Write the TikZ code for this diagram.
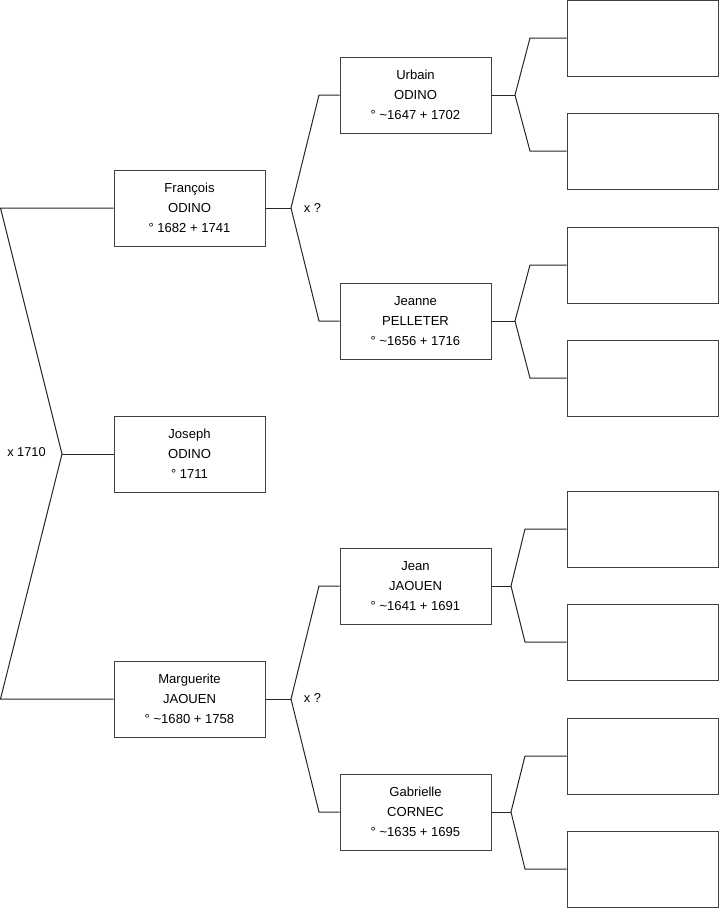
\documentclass[tikz,border=0pt]{standalone}
\usepackage{fontspec}
\setmainfont{Liberation Sans}
\begin{document}
\begin{tikzpicture}[x=0.75pt,y=-0.75pt,
  person/.style={draw=black!75,line width=0.75pt,fill=white,minimum width=113.25pt,minimum height=57pt,inner sep=0pt,align=center,font=\fontsize{9.8}{15}\selectfont},
  link/.style={draw=black!85,line width=0.75pt},
  lbl/.style={font=\fontsize{9.6}{11}\selectfont,inner sep=0pt}]
\useasboundingbox (0,0) rectangle (719,908);
\newcommand{\up}[1]{\raisebox{1.5pt}{\begin{tabular}{@{}c@{}}#1\end{tabular}}}
% generation 1
\node[person] (F) at (189.5,208) {\up{François\\ODINO\\° 1682 + 1741}};
\node[person] (J) at (189.5,454) {\up{Joseph\\ODINO\\° 1711}};
\node[person] (M) at (189.5,699) {\up{Marguerite\\JAOUEN\\° \textasciitilde1680 + 1758}};
% generation 2
\node[person] (U) at (415.5,95) {\up{Urbain\\ODINO\\° \textasciitilde1647 + 1702}};
\node[person] (Je) at (415.5,321) {\up{Jeanne\\PELLETER\\° \textasciitilde1656 + 1716}};
\node[person] (Jn) at (415.5,586) {\up{Jean\\JAOUEN\\° \textasciitilde1641 + 1691}};
\node[person] (G) at (415.5,812) {\up{Gabrielle\\CORNEC\\° \textasciitilde1635 + 1695}};
% generation 3 (empty)
\node[person] (E1) at (642.5,38) {};
\node[person] (E2) at (642.5,151) {};
\node[person] (E3) at (642.5,265) {};
\node[person] (E4) at (642.5,378) {};
\node[person] (E5) at (642.5,529) {};
\node[person] (E6) at (642.5,642) {};
\node[person] (E7) at (642.5,756) {};
\node[person] (E8) at (642.5,869) {};
% coordinates
\coordinate (lt) at (0.5,208);
\coordinate (lf) at (62,454);
\coordinate (lb) at (0.5,699);
\coordinate (fF) at (291,208);
\coordinate (bU) at (319,95);
\coordinate (bJe) at (319,321);
\coordinate (fM) at (291,699);
\coordinate (bJn) at (319,586);
\coordinate (bG) at (319,812);
\coordinate (fU) at (515,95);
\coordinate (b1) at (530,38);
\coordinate (b2) at (530,151);
\coordinate (fJe) at (515,321);
\coordinate (b3) at (530,265);
\coordinate (b4) at (530,378);
\coordinate (fJn) at (511,586);
\coordinate (b5) at (525,529);
\coordinate (b6) at (525,642);
\coordinate (fG) at (511,812);
\coordinate (b7) at (525,756);
\coordinate (b8) at (525,869);
% connectors
\draw[link] (F.west) -- (lt) -- (lf) -- (lb) -- (M.west);
\draw[link] (lf) -- (J.west);
\draw[link] (F.east) -- (fF);
\draw[link] (U.west) -- (bU) -- (fF) -- (bJe) -- (Je.west);
\draw[link] (M.east) -- (fM);
\draw[link] (Jn.west) -- (bJn) -- (fM) -- (bG) -- (G.west);
\draw[link] (U.east) -- (fU);
\draw[link] (E1.west) -- (b1) -- (fU) -- (b2) -- (E2.west);
\draw[link] (Je.east) -- (fJe);
\draw[link] (E3.west) -- (b3) -- (fJe) -- (b4) -- (E4.west);
\draw[link] (Jn.east) -- (fJn);
\draw[link] (E5.west) -- (b5) -- (fJn) -- (b6) -- (E6.west);
\draw[link] (G.east) -- (fG);
\draw[link] (E7.west) -- (b7) -- (fG) -- (b8) -- (E8.west);
% labels
\node[lbl] (m1) at (26.5,452) {x 1710};
\node[lbl] (m2) at (312.5,208) {x ?};
\node[lbl] (m3) at (312.5,698) {x ?};
\end{tikzpicture}
\end{document}
